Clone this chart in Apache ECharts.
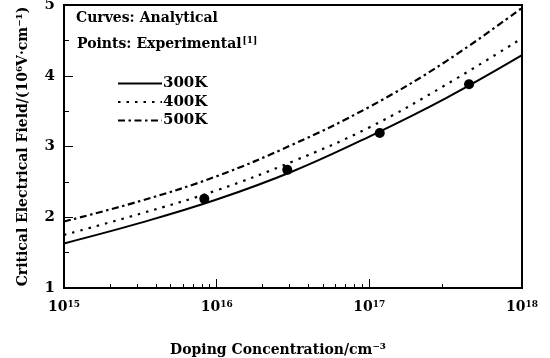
<!DOCTYPE html>
<html>
<head>
<meta charset="utf-8">
<script src="https://cdn.jsdelivr.net/npm/echarts@6/dist/echarts.min.js"></script>
<style>html,body{margin:0;padding:0;background:#fff;}#c{width:550px;height:358px;}</style>
</head>
<body>
<div id="c"></div>
<script>
const concentration = [1e15, 3.16e15, 1e16, 3.16e16, 1e17, 3.16e17, 1e18];
const field300K = [1.63, 1.92, 2.25, 2.65, 3.14, 3.68, 4.29];
const field400K = [1.75, 2.05, 2.38, 2.79, 3.27, 3.87, 4.53];
const field500K = [1.94, 2.23, 2.58, 3.03, 3.56, 4.20, 4.96];
const expConcentration = [8.3e15, 2.9e16, 1.17e17, 4.5e17];
const expField = [2.26, 2.67, 3.19, 3.88];
const xTickValues = [1e15, 1e16, 1e17, 1e18];
const xTickExponents = ['15', '16', '17', '18'];
const xMinorTicks = [2e15,3e15,4e15,5e15,6e15,7e15,8e15,9e15,2e16,3e16,4e16,5e16,6e16,7e16,8e16,9e16,3e17];

const font = '"DejaVu Serif", "Liberation Serif", serif';
const pair = (xs, ys) => xs.map((x, i) => [x, ys[i]]);

const chart = echarts.init(document.getElementById('c'));
chart.setOption({
  animation: false,
  backgroundColor: '#fff',
  textStyle: { fontFamily: font, color: '#000' },
  grid: { left: 64, right: 28, top: 5, bottom: 70, show: true, borderColor: '#000', borderWidth: 2, outerBoundsMode: 'none', containLabel: false },
  legend: {
    orient: 'vertical', left: 112, top: 71, itemGap: 3.5, itemWidth: 44, itemHeight: 14,
    itemStyle: { opacity: 0, borderWidth: 0 },
    data: ['300K', '400K', '500K'],
    textStyle: { fontFamily: font, fontSize: 15, fontWeight: 'bold', color: '#000', padding: [0, 0, 0, -4] }
  },
  graphic: [
    { type: 'text', left: 76, top: 11, style: { text: 'Curves: Analytical', font: 'bold 14px ' + font, fill: '#000' } },
    { type: 'text', left: 77, top: 36, style: { text: 'Points: Experimental{s|[1]}', font: 'bold 14px ' + font, fill: '#000',
      rich: { s: { fontSize: 9, fontWeight: 'bold', fontFamily: font, verticalAlign: 'top', padding: [0, 0, 8, 1] } } } }
  ],
  xAxis: [{
    type: 'log', logBase: 10, min: xTickValues[0], max: xTickValues[xTickValues.length - 1], interval: 1,
    name: 'Doping Concentration/cm⁻³', nameLocation: 'middle', nameGap: 55,
    nameTextStyle: { fontFamily: font, fontSize: 14, fontWeight: 'bold', color: '#000', padding: [0, 30, 0, 0] },
    axisLine: { show: true, lineStyle: { color: '#000', width: 2 } },
    axisTick: { show: true, inside: true, length: 9, lineStyle: { color: '#000', width: 1 } },
    axisLabel: {
      margin: 12, showMinLabel: true, showMaxLabel: true,
      formatter: (v) => {
        const i = xTickValues.findIndex(t => Math.abs(Math.log10(t) - Math.log10(v)) < 0.01);
        return i >= 0 ? '{b|10}{s|' + xTickExponents[i] + '}' : '';
      },
      rich: {
        b: { fontFamily: font, fontSize: 14, fontWeight: 'bold', color: '#000' },
        s: { fontFamily: font, fontSize: 9, fontWeight: 'bold', color: '#000', verticalAlign: 'top', padding: [0, 0, 6, 0] }
      }
    },
    splitLine: { show: false }
  }, {
    type: 'log', logBase: 10, min: xTickValues[0], max: xTickValues[xTickValues.length - 1], position: 'bottom',
    axisLine: { show: false },
    axisTick: { show: true, inside: true, length: 4, customValues: xMinorTicks, lineStyle: { color: '#000', width: 1 } },
    axisLabel: { show: false }, splitLine: { show: false }
  }],
  yAxis: {
    type: 'value', min: 1, max: 5, interval: 1,
    name: 'Critical Electrical Field/(10⁶V·cm⁻¹)', nameLocation: 'middle', nameGap: 34,
    nameTextStyle: { fontFamily: font, fontSize: 14, fontWeight: 'bold', color: '#000' },
    axisLine: { show: true, lineStyle: { color: '#000', width: 2 } },
    axisTick: { show: true, inside: true, length: 9, lineStyle: { color: '#000', width: 1 } },
    minorTick: { show: true, splitNumber: 2, length: 5, lineStyle: { color: '#000', width: 1 } },
    axisLabel: { fontFamily: font, fontSize: 15, fontWeight: 'bold', color: '#000', margin: 9 },
    splitLine: { show: false }
  },
  series: [
    { name: '300K', type: 'line', smooth: 0.4, showSymbol: false, symbol: 'none', data: pair(concentration, field300K),
      lineStyle: { color: '#000', width: 2, type: 'solid' }, itemStyle: { color: '#000' } },
    { name: '400K', type: 'line', smooth: 0.4, showSymbol: false, symbol: 'none', data: pair(concentration, field400K),
      lineStyle: { color: '#000', width: 2.2, type: [2.5, 6] }, itemStyle: { color: '#000' } },
    { name: '500K', type: 'line', smooth: 0.4, showSymbol: false, symbol: 'none', data: pair(concentration, field500K),
      lineStyle: { color: '#000', width: 2.2, type: [7, 3.5, 2.5, 3.5] }, itemStyle: { color: '#000' } },
    { name: 'Experimental', type: 'scatter', symbol: 'circle', symbolSize: 10, data: pair(expConcentration, expField),
      itemStyle: { color: '#000', opacity: 1 } }
  ]
});
</script>
</body>
</html>
